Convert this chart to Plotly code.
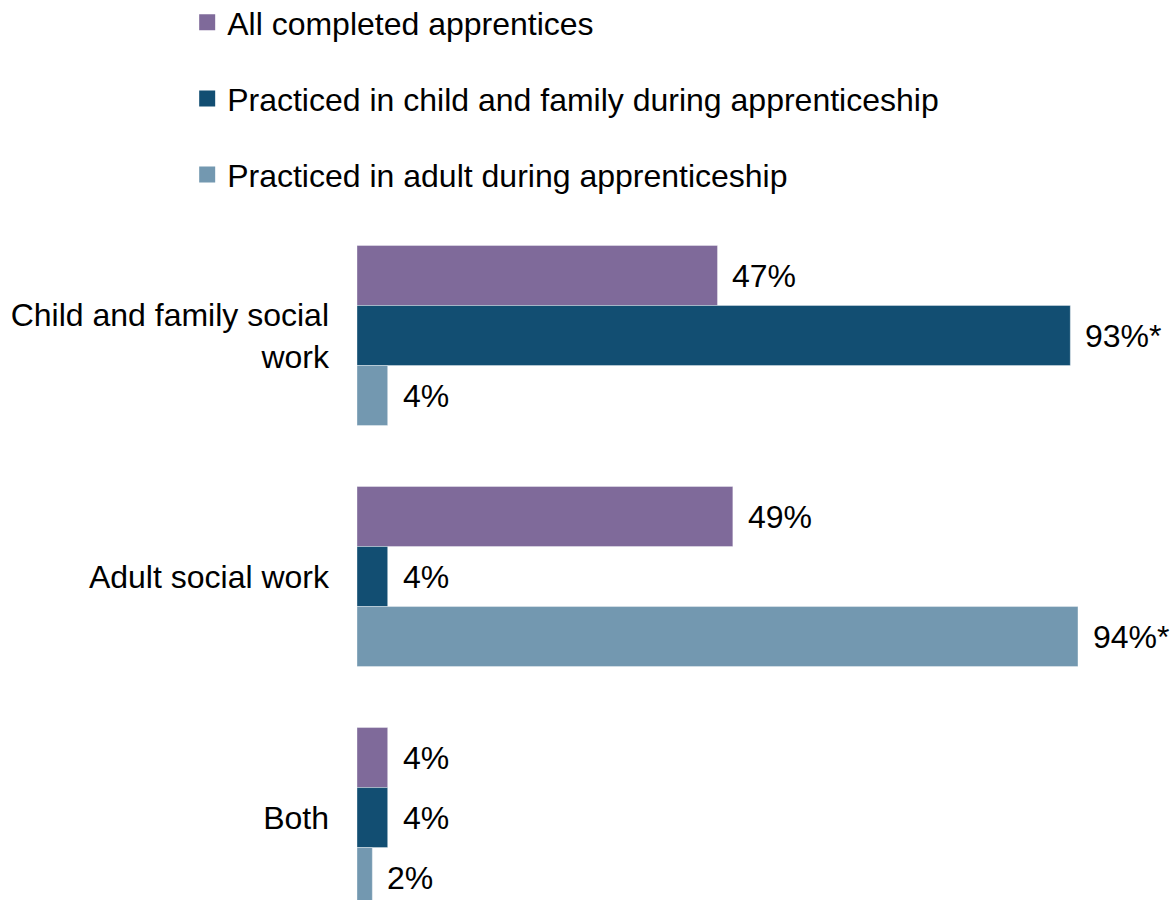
import plotly.graph_objects as go

# Share of apprentices by practice area
categories = ["Child and family social<br>work", "Adult social work", "Both"]
series_names = [
    "All completed apprentices",
    "Practiced in child and family during apprenticeship",
    "Practiced in adult during apprenticeship",
]
all_completed = [47, 49, 4]
practiced_child = [93, 4, 4]
practiced_adult = [4, 94, 2]
label_suffix = [["%", "%", "%"], ["%*", "%", "%"], ["%", "%*", "%"]]

colors = ["#7F6A9A", "#124E72", "#7398B0"]
FONT = "Liberation Sans, Arial, sans-serif"
FS = 32

series_values = [all_completed, practiced_child, practiced_adult]
label_yshift = [60, 0, -60]  # pixel offset of each bar within its group

fig = go.Figure()
for name, vals, col, suf, dy in zip(series_names, series_values, colors,
                                     label_suffix, label_yshift):
    fig.add_trace(go.Bar(
        y=categories, x=vals, name=name, orientation="h",
        marker=dict(color=col, line=dict(color="rgba(255,255,255,0.6)", width=0.6)),
        showlegend=False,
    ))
    # legend swatch: a square marker on a hidden axis pair, clipped out of view
    fig.add_trace(go.Scatter(
        x=[0], y=[0], mode="markers", name=name, legendgroup=name,
        marker=dict(symbol="square", size=18, color=col),
        xaxis="x2", yaxis="y2", hoverinfo="skip",
    ))
    for cat, v, s in zip(categories, vals, suf):
        fig.add_annotation(
            x=v, y=cat, text=f"{v}{s}", showarrow=False,
            xanchor="left", yanchor="middle", xshift=13, yshift=dy,
            font=dict(family=FONT, size=FS, color="#000000"),
        )

fig.update_layout(
    width=1175, height=900,
    paper_bgcolor="white", plot_bgcolor="white",
    margin=dict(l=357, r=51, t=215, b=0, autoexpand=False),
    barmode="group", bargap=0.253, bargroupgap=0,
    font=dict(family=FONT, size=FS, color="#000000"),
    showlegend=True,
    legend=dict(
        orientation="v", xref="paper", yref="paper",
        x=-0.2214, y=1.3212, xanchor="left", yanchor="top",
        font=dict(family=FONT, size=FS, color="#000000"),
        traceorder="grouped", tracegroupgap=31.5, bgcolor="rgba(0,0,0,0)",
    ),
    xaxis=dict(range=[0, 100], visible=False, fixedrange=True),
    yaxis=dict(
        range=[2.342, -0.5], showgrid=False, zeroline=False,
        showline=False, ticks="", ticklabelstandoff=27,
        tickfont=dict(family=FONT, size=FS, color="#000000"),
    ),
    xaxis2=dict(range=[1, 2], visible=False, overlaying="x", fixedrange=True),
    yaxis2=dict(range=[1, 2], visible=False, overlaying="y", fixedrange=True),
)

fig.write_html("out.html")
